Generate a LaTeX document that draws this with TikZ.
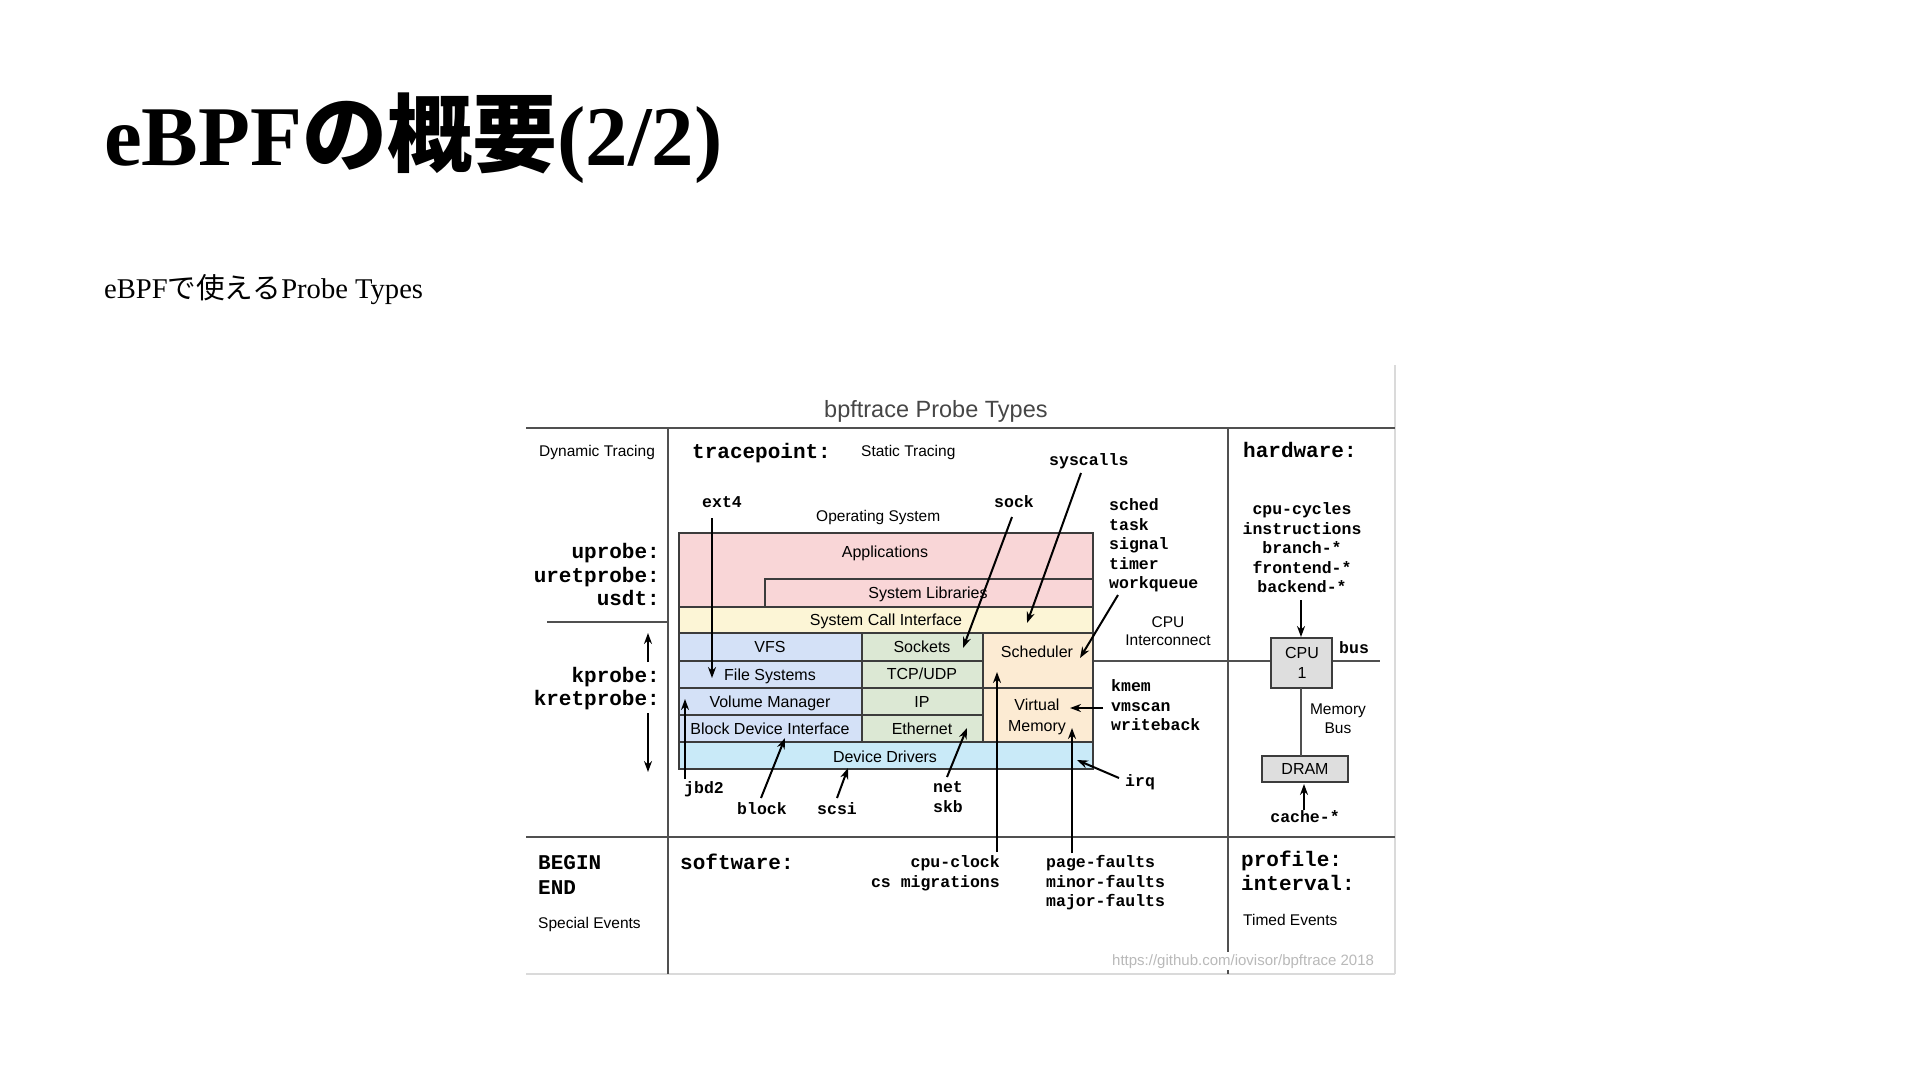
\documentclass[tikz,border=0pt]{standalone}
\usepackage{fontspec}
\setmainfont{Liberation Serif}
\setsansfont{Liberation Sans}
\setmonofont{Liberation Mono}
\newfontfamily\jpfont{Noto Sans CJK JP}
\usetikzlibrary{arrows.meta}
\definecolor{pinkL}{RGB}{249,214,215}
\definecolor{yellowL}{RGB}{252,245,214}
\definecolor{blueL}{RGB}{212,225,247}
\definecolor{greenL}{RGB}{220,232,212}
\definecolor{orangeL}{RGB}{252,235,211}
\definecolor{cyanL}{RGB}{201,234,248}
\definecolor{boxgray}{RGB}{222,222,222}
\definecolor{layerc}{RGB}{60,60,60}
\definecolor{gridc}{RGB}{80,80,80}
\definecolor{framec}{RGB}{218,218,218}
\definecolor{urlc}{RGB}{185,185,185}
\definecolor{headc}{RGB}{70,70,70}
\tikzset{
  gridline/.style={draw=gridc, line width=2pt},
  frameline/.style={draw=framec, line width=1.2pt},
  layer/.style={draw=layerc, line width=1.5pt, inner sep=0pt, outer sep=0pt, anchor=north west},
  arr/.style={draw=black, line width=2pt, -{Stealth[length=11pt,width=8pt]}},
  lab/.style={inner sep=0pt, font=\fontsize{16}{19}\selectfont\sffamily, text height=11.5pt, text depth=0pt},
  sml/.style={inner sep=0pt, font=\fontsize{15.5}{18}\selectfont\sffamily, text height=11pt, text depth=0pt},
  mono/.style={inner sep=0pt, font=\fontsize{16.5}{19}\selectfont\ttfamily\bfseries, text height=9pt, text depth=0pt},
  bmono/.style={inner sep=0pt, font=\fontsize{21}{24}\selectfont\ttfamily\bfseries, text height=12pt, text depth=0pt},
}
\begin{document}
\begin{tikzpicture}[x=1pt,y=-1pt]
\useasboundingbox[fill=white] (0,0) rectangle (1920,1080);

% slide title and subtitle
\node[anchor=base west, inner sep=0pt, font=\fontsize{85}{100}\selectfont\bfseries] (title) at (104,165) {eBPF{\jpfont\bfseries の概要}(2/2)};
\node[anchor=base west, inner sep=0pt, font=\fontsize{28.6}{34}\selectfont] (subtitle) at (104,298) {eBPF{\jpfont で使える}Probe Types};

% diagram heading
\node[anchor=west, inner sep=0pt, font=\fontsize{23.5}{28}\selectfont\sffamily, text=headc, text height=16pt, text depth=0pt] (head) at (824,409) {bpftrace Probe Types};

% frame and grid
\draw[frameline] (1395,365) -- (1395,974);
\draw[frameline] (526,974) -- (1395,974);
\draw[gridline] (526,428) -- (1395,428);
\draw[gridline] (526,837) -- (1395,837);
\draw[gridline] (668,428) -- (668,974);
\draw[gridline] (1228,428) -- (1228,974);
\draw[gridline] (547,622) -- (667,622);

% CPU interconnect line
\draw[gridline] (1093,661) -- (1380,661);

% operating system layers
\node[layer, fill=pinkL, minimum width=414pt, minimum height=74pt] (apps) at (679,533) {};
\node[layer, fill=pinkL, minimum width=328pt, minimum height=28pt] (syslib) at (765,579) {};
\node[layer, fill=yellowL, minimum width=414pt, minimum height=26pt] (sci) at (679,607) {};
\node[layer, fill=blueL, minimum width=183pt, minimum height=28pt] (vfs) at (679,633) {};
\node[layer, fill=blueL, minimum width=183pt, minimum height=27pt] (fsys) at (679,661) {};
\node[layer, fill=blueL, minimum width=183pt, minimum height=27pt] (volm) at (679,688) {};
\node[layer, fill=blueL, minimum width=183pt, minimum height=27pt] (bdi) at (679,715) {};
\node[layer, fill=greenL, minimum width=121pt, minimum height=28pt] (sockets) at (862,633) {};
\node[layer, fill=greenL, minimum width=121pt, minimum height=27pt] (tcp) at (862,661) {};
\node[layer, fill=greenL, minimum width=121pt, minimum height=27pt] (ip) at (862,688) {};
\node[layer, fill=greenL, minimum width=121pt, minimum height=27pt] (eth) at (862,715) {};
\node[layer, fill=orangeL, minimum width=110pt, minimum height=55pt] (sched) at (983,633) {};
\node[layer, fill=orangeL, minimum width=110pt, minimum height=54pt] (virt) at (983,688) {};
\node[layer, fill=cyanL, minimum width=414pt, minimum height=27pt] (dd) at (679,742) {};

\node[lab] (tapps) at (885,552) {Applications};
\node[lab] (tsyslib) at (928,593) {System Libraries};
\node[lab] (tsci) at (886,620) {System Call Interface};
\node[lab] (tvfs) at (770,647) {VFS};
\node[lab] (tfsys) at (770,675) {File Systems};
\node[lab] (tvolm) at (770,702) {Volume Manager};
\node[lab] (tbdi) at (770,729) {Block Device Interface};
\node[lab] (tsockets) at (922,647) {Sockets};
\node[lab] (ttcp) at (922,674) {TCP/UDP};
\node[lab] (tip) at (922,702) {IP};
\node[lab] (teth) at (922,729) {Ethernet};
\node[lab] (tsched) at (1037,652) {Scheduler};
\node[lab] (tvirt1) at (1037,705) {Virtual};
\node[lab] (tvirt2) at (1037,726) {Memory};
\node[lab] (tdd) at (885,757) {Device Drivers};

% hardware
\node[layer, fill=boxgray, minimum width=61pt, minimum height=50pt] (cpu) at (1271,638) {};
\node[layer, fill=boxgray, minimum width=86pt, minimum height=26pt] (dram) at (1262,756) {};
\draw[gridline] (1301,688) -- (1301,756);
\node[lab] (tcpu1) at (1302,653) {CPU};
\node[lab] (tcpu2) at (1302,673) {1};
\node[lab] (tdram) at (1305,769) {DRAM};

% plain labels
\node[sml, anchor=west] (dyn) at (539,451) {Dynamic Tracing};
\node[sml, anchor=west] (stat) at (861,451) {Static Tracing};
\node[sml, anchor=west] (os) at (816,516) {Operating System};
\node[sml] (ic1) at (1168,622) {CPU};
\node[sml] (ic2) at (1168,640) {Interconnect};
\node[sml] (mb1) at (1338,709) {Memory};
\node[sml] (mb2) at (1338,728) {Bus};
\node[sml, anchor=west] (spec) at (538,923) {Special Events};
\node[sml, anchor=west] (timed) at (1243,920) {Timed Events};

% big probe names
\node[bmono, anchor=west] (tracepoint) at (692,452) {tracepoint:};
\node[bmono, anchor=west] (hardware) at (1243,451) {hardware:};
\node[bmono, anchor=east] (uprobe) at (660,552) {uprobe:};
\node[bmono, anchor=east] (uretprobe) at (660,576) {uretprobe:};
\node[bmono, anchor=east] (usdt) at (660,599) {usdt:};
\node[bmono, anchor=east] (kprobe) at (660,676) {kprobe:};
\node[bmono, anchor=east] (kretprobe) at (660,699) {kretprobe:};
\node[bmono, anchor=west] (begin) at (538,863) {BEGIN};
\node[bmono, anchor=west] (end) at (538,888) {END};
\node[bmono, anchor=west] (software) at (680,863) {software:};
\node[bmono, anchor=west] (profile) at (1241,860) {profile:};
\node[bmono, anchor=west] (interval) at (1241,884) {interval:};

% small probe names
\node[mono, anchor=west] (syscalls) at (1049,461) {syscalls};
\node[mono, anchor=west] (ext4) at (702,503) {ext4};
\node[mono, anchor=west] (sock) at (994,503) {sock};
\foreach \w [count=\i] in {sched,task,signal,timer,workqueue}
  \node[mono, anchor=west] (tp\i) at (1109,{506+19.5*(\i-1)}) {\w};
\foreach \w [count=\i] in {cpu-cycles,instructions,branch-*,frontend-*,backend-*}
  \node[mono] (hw\i) at (1302,{510+19.5*(\i-1)}) {\w};
\node[mono, anchor=west] (kmem) at (1111,687) {kmem};
\node[mono, anchor=west] (vmscan) at (1111,707) {vmscan};
\node[mono, anchor=west] (writeback) at (1111,726) {writeback};
\node[mono, anchor=west] (irq) at (1125,782) {irq};
\node[mono] (cache) at (1305,818) {cache-*};
\node[mono, anchor=west] (jbd2) at (684,789) {jbd2};
\node[mono, anchor=west] (block) at (737,810) {block};
\node[mono, anchor=west] (scsi) at (817,810) {scsi};
\node[mono] (net) at (948,788) {net};
\node[mono] (skb) at (948,808) {skb};
\node[mono, anchor=west] (bus) at (1339,649) {bus};
\node[mono, anchor=east] (cpuclock) at (1000,863) {cpu-clock};
\node[mono, anchor=east] (csmig) at (1000,883) {cs migrations};
\node[mono, anchor=west] (pagef) at (1046,863) {page-faults};
\node[mono, anchor=west] (minorf) at (1046,883) {minor-faults};
\node[mono, anchor=west] (majorf) at (1046,902) {major-faults};

% arrow end points
\coordinate (a1s) at (712,518);  \coordinate (a1e) at (712,678);
\coordinate (a2s) at (685,779);  \coordinate (a2e) at (685,699);
\coordinate (a3s) at (761,798);  \coordinate (a3e) at (785,738);
\coordinate (a4s) at (837,798);  \coordinate (a4e) at (848,768);
\coordinate (a5s) at (947,777);  \coordinate (a5e) at (967,728);
\coordinate (a6s) at (1012,517); \coordinate (a6e) at (963,648);
\coordinate (a7s) at (1081,473); \coordinate (a7e) at (1027,623);
\coordinate (a8s) at (1118,595); \coordinate (a8e) at (1080,658);
\coordinate (a9s) at (1103,708); \coordinate (a9e) at (1070,708);
\coordinate (a10s) at (1119,778); \coordinate (a10e) at (1077,760);
\coordinate (a11s) at (997,852);  \coordinate (a11e) at (997,672);
\coordinate (a12s) at (1072,853); \coordinate (a12e) at (1072,728);
\coordinate (a13s) at (648,662);  \coordinate (a13e) at (648,633);
\coordinate (a14s) at (648,713);  \coordinate (a14e) at (648,772);
\coordinate (a15s) at (1301,600); \coordinate (a15e) at (1301,637);
\coordinate (a16s) at (1304,810); \coordinate (a16e) at (1304,784);
\foreach \i in {1,...,16} \draw[arr] (a\i s) -- (a\i e);

% source note
\node[anchor=west, inner sep=2pt, fill=white, font=\fontsize{15}{18}\selectfont\sffamily, text=urlc, text height=11pt, text depth=3pt] (url) at (1110,961) {https://github.com/iovisor/bpftrace 2018};
\end{tikzpicture}
\end{document}
